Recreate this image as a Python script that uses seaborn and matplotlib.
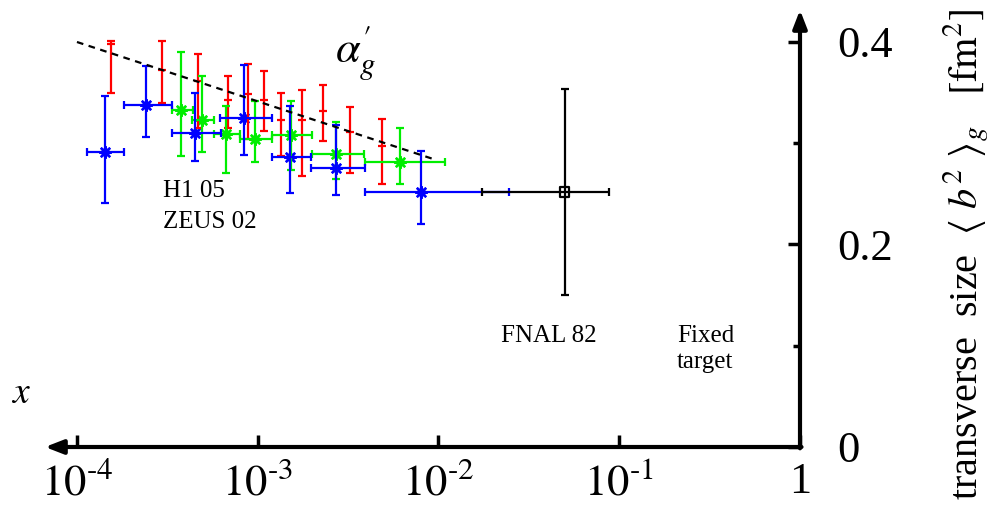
import numpy as np
import pandas as pd
import matplotlib
matplotlib.use("Agg")
from matplotlib import pyplot as plt
import seaborn as sns

#--- data (x = Bjorken x, y = <b^2>_g in fm^2)

# H1 05 (red): only vertical errors
red_x = [1.535e-4, 2.95e-4, 4.67e-4, 6.81e-4, 8.81e-4, 1.079e-3, 1.352e-3, 1.75e-3, 2.31e-3, 3.24e-3, 4.89e-3]
red_y = [0.398, 0.372, 0.361, 0.343, 0.349, 0.343, 0.323, 0.323, 0.332, 0.311, 0.297]
red_hi = [0.401, 0.401, 0.388, 0.366, 0.378, 0.371, 0.350, 0.353, 0.358, 0.336, 0.324]
red_lo = [0.350, 0.340, 0.315, 0.315, 0.304, 0.312, 0.287, 0.268, 0.302, 0.271, 0.260]

# green
green_x = [3.77e-4, 4.91e-4, 6.71e-4, 9.70e-4, 1.52e-3, 2.72e-3, 6.11e-3]
green_xlo = [3.35e-4, 4.32e-4, 5.71e-4, 8.02e-4, 1.205e-3, 1.986e-3, 3.94e-3]
green_xhi = [4.36e-4, 5.71e-4, 8.02e-4, 1.205e-3, 1.986e-3, 3.86e-3, 1.089e-2]
green_y = [0.333, 0.323, 0.309, 0.304, 0.308, 0.289, 0.281]
green_hi = [0.390, 0.366, 0.337, 0.342, 0.342, 0.321, 0.315]
green_lo = [0.287, 0.291, 0.271, 0.281, 0.274, 0.265, 0.260]

# blue
blue_x = [1.43e-4, 2.40e-4, 4.47e-4, 8.39e-4, 1.517e-3, 2.72e-3, 8.0e-3]
blue_xlo = [1.14e-4, 1.82e-4, 3.35e-4, 6.19e-4, 1.205e-3, 1.98e-3, 3.94e-3]
blue_xhi = [1.82e-4, 3.35e-4, 6.27e-4, 1.205e-3, 1.98e-3, 3.94e-3, 2.47e-2]
blue_y = [0.291, 0.338, 0.310, 0.325, 0.286, 0.276, 0.252]
blue_hi = [0.347, 0.376, 0.350, 0.377, 0.337, 0.318, 0.292]
blue_lo = [0.241, 0.306, 0.282, 0.288, 0.251, 0.249, 0.220]

# FNAL 82 (black)
fnal_x = [0.050]
fnal_xlo = [0.0175]
fnal_xhi = [0.088]
fnal_y = [0.252]
fnal_hi = [0.354]
fnal_lo = [0.150]

# alpha'_g slope line
slope_x = [1.0e-4, 9.7e-3]
slope_y = [0.400, 0.2835]

xtick_vals = [1e-4, 1e-3, 1e-2, 1e-1, 1]
xtick_labels = [r'$10^{\text{-}4}$', r'$10^{\text{-}3}$', r'$10^{\text{-}2}$', r'$10^{\text{-}1}$', '1']
ytick_vals = [0, 0.2, 0.4]
ytick_labels = ['0', '0.2', '0.4']

#--- style
sns.set_theme(style="white")
plt.rcParams['font.family'] = ['Liberation Serif', 'DejaVu Serif']
plt.rcParams['mathtext.fontset'] = 'stix'
for k in ['text.color', 'xtick.color', 'ytick.color', 'axes.labelcolor']:
    plt.rcParams[k] = 'black'

W, H = 989, 508
fx = lambda px: px / W
fy = lambda py: 1 - py / H

fig = plt.figure(figsize=(W / 100, H / 100), dpi=100)
ax = fig.add_axes([fx(45), fy(447), 755 / W, 437 / H])
ax.set_xscale('log')
ax.set_xlim(10 ** -4.1768, 1)
ax.set_ylim(0, 0.4316)

ebkw = dict(fmt='none', elinewidth=1.6, capsize=3, capthick=1.6)


def err(a, lo, hi):
    a, lo, hi = np.array(a), np.array(lo), np.array(hi)
    return [a - lo, hi - a]


#--- red: vertical bars + small tick at centre
ax.errorbar(red_x, red_y, yerr=err(red_y, red_lo, red_hi), ecolor='#ff0000', **ebkw)
sns.scatterplot(pd.DataFrame({'x': red_x, 'y': red_y}), x='x', y='y', ax=ax,
                marker='_', s=40, color='#ff0000', linewidth=1.6, legend=False)

#--- green
ax.errorbar(green_x, green_y, xerr=err(green_x, green_xlo, green_xhi),
            yerr=err(green_y, green_lo, green_hi), ecolor='#00ee00', **ebkw)
sns.scatterplot(pd.DataFrame({'x': green_x, 'y': green_y}), x='x', y='y', ax=ax,
                marker=(8, 2, 0), s=60, color='#00ee00', linewidth=1.8, legend=False)

#--- blue
ax.errorbar(blue_x, blue_y, xerr=err(blue_x, blue_xlo, blue_xhi),
            yerr=err(blue_y, blue_lo, blue_hi), ecolor='#0000ff', **ebkw)
sns.scatterplot(pd.DataFrame({'x': blue_x, 'y': blue_y}), x='x', y='y', ax=ax,
                marker=(8, 2, 0), s=60, color='#0000ff', linewidth=1.8, legend=False)

#--- black FNAL point
ax.errorbar(fnal_x, fnal_y, xerr=err(fnal_x, fnal_xlo, fnal_xhi),
            yerr=err(fnal_y, fnal_lo, fnal_hi), ecolor='black', **ebkw)
sns.scatterplot(pd.DataFrame({'x': fnal_x, 'y': fnal_y}), x='x', y='y', ax=ax,
                marker='s', s=45, facecolor='none', edgecolor='black', linewidth=1.6, legend=False)

#--- dashed slope line
sns.lineplot(x=slope_x, y=slope_y, ax=ax, color='black', linewidth=1.6,
             linestyle=(0, (3, 2.5)))

#--- axes with arrows
for s in ax.spines.values():
    s.set_visible(False)
arr = dict(arrowstyle='-|>,head_length=0.9,head_width=0.35', lw=3, color='black',
           shrinkA=0, shrinkB=0)
ax.annotate('', xy=(0, 0), xytext=(1.002, 0), xycoords='axes fraction', arrowprops=arr)
ax.annotate('', xy=(1, 1), xytext=(1, -0.003), xycoords='axes fraction', arrowprops=arr)

ax.set_xticks(xtick_vals, xtick_labels)
ax.xaxis.set_minor_locator(matplotlib.ticker.NullLocator())
ax.set_yticks(ytick_vals, ytick_labels)
ax.set_yticks([0.1, 0.3], minor=True)
ax.tick_params(axis='x', which='major', direction='in', length=9, width=2.5,
               bottom=True, top=False, labelsize=32, pad=11)
ax.tick_params(axis='y', which='both', direction='in', width=2.5, left=False,
               right=True, labelleft=False, labelright=True, labelsize=32, pad=27)
ax.tick_params(axis='y', which='major', length=9)
ax.tick_params(axis='y', which='minor', length=5)
ax.set_xlabel('')
ax.set_ylabel('')

#--- texts
fig.text(fx(335), fy(62), r"$\alpha^{\prime}_{g}$", fontsize=32, ha='left', va='baseline')
fig.text(fx(163), fy(197), "H1 05", fontsize=18, ha='left', va='baseline')
fig.text(fx(163), fy(228), "ZEUS 02", fontsize=18, ha='left', va='baseline')
fig.text(fx(501), fy(342), "FNAL 82", fontsize=18, ha='left', va='baseline')
fig.text(fx(677), fy(342), "Fixed", fontsize=18, ha='left', va='baseline')
fig.text(fx(677), fy(368), "target", fontsize=18, ha='left', va='baseline')
fig.text(fx(11), fy(403), "$x$", fontsize=27, ha='left', va='baseline')
fig.text(fx(966), fy(254),
         r"transverse  size  $\langle\ b^2\ \rangle_g$   $[\mathrm{fm}^2]$",
         fontsize=29, rotation=90, ha='center', va='center')

plt.savefig('out.png', dpi=100)
plt.close()
